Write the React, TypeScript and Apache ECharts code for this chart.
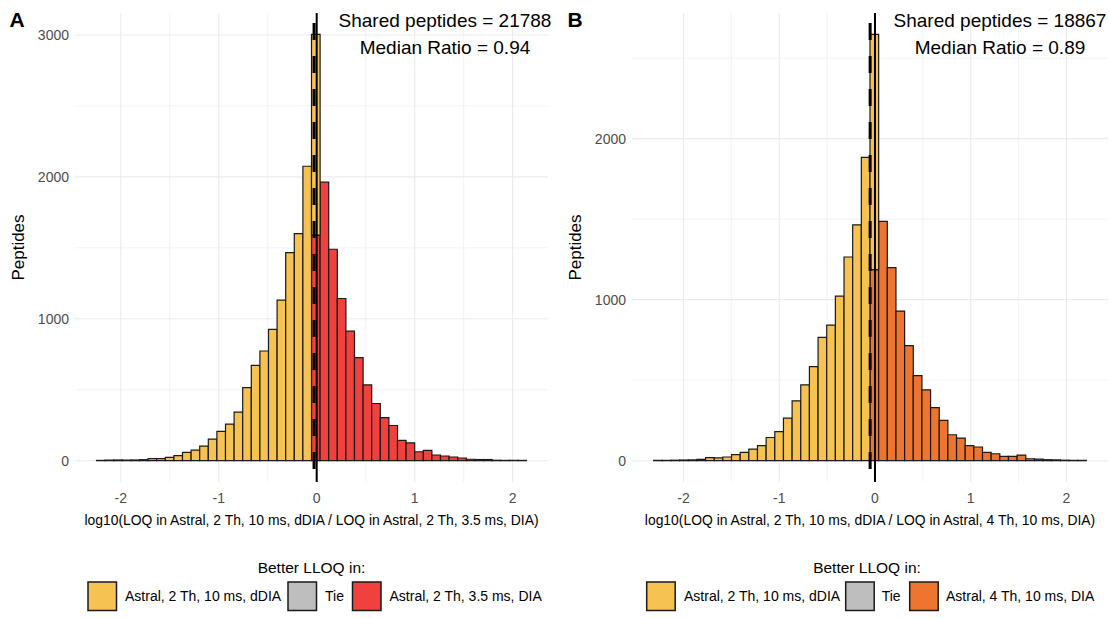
import React, { useEffect, useRef } from "react";
import * as echarts from "echarts";

const FONT = '"Liberation Sans", Arial, Helvetica, sans-serif';

// Panel A: log10(LOQ 2 Th 10 ms dDIA / LOQ 2 Th 3.5 ms DIA), 50 equal bins
const A_BIN_START = -2.248;
const A_BIN_WIDTH = 0.0878;
const A_BETTER_DDIA = [
  2, 4, 5, 4, 5, 7, 14, 14, 23, 35, 59, 75, 103, 152, 206, 258, 342, 515, 672, 773, 925, 1131, 1466, 1600, 2075,
  1415, 0, 0, 0, 0, 0, 0, 0, 0, 0, 0, 0, 0, 0, 0, 0, 0, 0, 0, 0, 0, 0, 0, 0, 0,
];
const A_BETTER_DIA = [
  0, 0, 0, 0, 0, 0, 0, 0, 0, 0, 0, 0, 0, 0, 0, 0, 0, 0, 0, 0, 0, 0, 0, 0, 0,
  1590, 1963, 1490, 1143, 913, 726, 534, 403, 304, 248, 143, 126, 63, 73, 40, 33, 26, 19, 10, 8, 8, 3, 2, 2, 2,
];
const A_SHARED = 21788;
const A_MEDIAN_RATIO = 0.94;
const A_GROUPS = ["Astral, 2 Th, 10 ms, dDIA", "Tie", "Astral, 2 Th, 3.5 ms, DIA"];
const A_X_TITLE = "log10(LOQ in Astral, 2 Th, 10 ms, dDIA / LOQ in Astral, 2 Th, 3.5 ms, DIA)";
const A_Y_TICKS = [0, 1000, 2000, 3000];
const A_Y_MINOR = [500, 1500, 2500];

// Panel B: log10(LOQ 2 Th 10 ms dDIA / LOQ 4 Th 10 ms DIA), 50 equal bins
const B_BIN_START = -2.312;
const B_BIN_WIDTH = 0.0904;
const B_BETTER_DDIA = [
  2, 2, 3, 4, 5, 8, 19, 17, 23, 37, 52, 72, 93, 144, 180, 264, 372, 471, 584, 766, 842, 1022, 1265, 1465, 1884,
  1461, 0, 0, 0, 0, 0, 0, 0, 0, 0, 0, 0, 0, 0, 0, 0, 0, 0, 0, 0, 0, 0, 0, 0, 0,
];
const B_BETTER_DIA = [
  0, 0, 0, 0, 0, 0, 0, 0, 0, 0, 0, 0, 0, 0, 0, 0, 0, 0, 0, 0, 0, 0, 0, 0, 0,
  1187, 1486, 1199, 929, 714, 528, 440, 330, 250, 161, 140, 93, 85, 52, 43, 27, 27, 35, 12, 10, 6, 5, 3, 2, 2,
];
const B_SHARED = 18867;
const B_MEDIAN_RATIO = 0.89;
const B_GROUPS = ["Astral, 2 Th, 10 ms, dDIA", "Tie", "Astral, 4 Th, 10 ms, DIA"];
const B_X_TITLE = "log10(LOQ in Astral, 2 Th, 10 ms, dDIA / LOQ in Astral, 4 Th, 10 ms, DIA)";
const B_Y_TICKS = [0, 1000, 2000];
const B_Y_MINOR = [500, 1500, 2500];

const X_TICKS = [-2, -1, 0, 1, 2];
const X_MINOR = [-1.5, -0.5, 0.5, 1.5];
const LEGEND_TITLE = "Better LLOQ in:";

const COLOR_DDIA = "#F6C353";
const COLOR_TIE = "#BEBEBE";
const COLOR_DIA_A = "#F0413F";
const COLOR_DIA_B = "#EE7530";
const GRID_COLOR = "#EBEBEB";
const OUTLINE = "#1a1a1a";

type Panel = {
  binStart: number;
  binWidth: number;
  ddia: number[];
  dia: number[];
  shared: number;
  median: number;
  groups: string[];
  xTitle: string;
  yTicks: number[];
  yMinor: number[];
  diaColor: string;
};

const PANELS: Panel[] = [
  {
    binStart: A_BIN_START, binWidth: A_BIN_WIDTH, ddia: A_BETTER_DDIA, dia: A_BETTER_DIA,
    shared: A_SHARED, median: A_MEDIAN_RATIO, groups: A_GROUPS, xTitle: A_X_TITLE,
    yTicks: A_Y_TICKS, yMinor: A_Y_MINOR, diaColor: COLOR_DIA_A,
  },
  {
    binStart: B_BIN_START, binWidth: B_BIN_WIDTH, ddia: B_BETTER_DDIA, dia: B_BETTER_DIA,
    shared: B_SHARED, median: B_MEDIAN_RATIO, groups: B_GROUPS, xTitle: B_X_TITLE,
    yTicks: B_Y_TICKS, yMinor: B_Y_MINOR, diaColor: COLOR_DIA_B,
  },
];

// layout of the two panels
const LAYOUT = [
  { left: 75, width: 473, label: "A", labelX: 17, annX: 445, legendKeys: [88, 288, 352.5], legendTexts: [125, 325, 389.5], legendTitleX: 311.5 },
  { left: 632, width: 476, label: "B", labelX: 575, annX: 1000, legendKeys: [646.7, 845.7, 909.7], legendTexts: [684, 881.7, 946], legendTitleX: 867 },
];
const GRID_TOP = 13;
const GRID_HEIGHT = 469;

const renderBar = (params: any, api: any) => {
  const p0 = api.coord([api.value(0), api.value(2)]);
  const p1 = api.coord([api.value(1), api.value(3)]);
  return {
    type: "rect",
    shape: { x: p0[0], y: p1[1], width: p1[0] - p0[0], height: p0[1] - p1[1] },
    style: { fill: api.visual("color"), stroke: OUTLINE, lineWidth: 1.2 },
  };
};

const renderVGrid = (params: any, api: any) => {
  const cs = params.coordSys;
  const x = api.coord([api.value(0), 0])[0];
  return {
    type: "line",
    shape: { x1: x, y1: cs.y, x2: x, y2: cs.y + cs.height },
    style: { stroke: GRID_COLOR, lineWidth: api.value(2) ? 1.1 : 0.6 },
  };
};

const renderHGrid = (params: any, api: any) => {
  const cs = params.coordSys;
  const y = api.coord([0, api.value(1)])[1];
  return {
    type: "line",
    shape: { x1: cs.x, y1: y, x2: cs.x + cs.width, y2: y },
    style: { stroke: GRID_COLOR, lineWidth: api.value(2) ? 1.1 : 0.6 },
  };
};

const makeVRef = (dashed: boolean) => (params: any, api: any) => {
  const cs = params.coordSys;
  const x = api.coord([api.value(0), 0])[0];
  return {
    type: "line",
    shape: { x1: x, y1: cs.y, x2: x, y2: cs.y + cs.height },
    style: dashed
      ? { stroke: "#000", lineWidth: 3, lineDash: [17, 16], lineDashOffset: -10 }
      : { stroke: "#000", lineWidth: 2 },
  };
};

function buildOption() {
  const grid: any[] = [];
  const xAxis: any[] = [];
  const yAxis: any[] = [];
  const series: any[] = [];
  const graphic: any[] = [];

  PANELS.forEach((p, i) => {
    const L = LAYOUT[i];
    const nBins = p.ddia.length;
    const xLo = p.binStart;
    const xHi = p.binStart + nBins * p.binWidth;
    const xPad = 0.05 * (xHi - xLo);
    const totals = p.ddia.map((v, k) => v + p.dia[k]);
    const yTop = Math.max(...totals);
    const yPad = 0.05 * yTop;

    grid.push({ left: L.left, top: GRID_TOP, width: L.width, height: GRID_HEIGHT, containLabel: false });

    xAxis.push({
      gridIndex: i,
      type: "value",
      min: xLo - xPad,
      max: xHi + xPad,
      axisLine: { show: false },
      axisTick: { show: false },
      splitLine: { show: false },
      axisLabel: {
        customValues: X_TICKS,
        formatter: (v: number) => String(v),
        color: "#4D4D4D",
        fontSize: 14,
        fontFamily: FONT,
        margin: 9,
      },
      name: p.xTitle,
      nameLocation: "middle",
      nameGap: 31,
      nameTextStyle: { color: "#000", fontSize: 13.9, fontFamily: FONT },
    });

    yAxis.push({
      gridIndex: i,
      type: "value",
      min: -yPad,
      max: yTop + yPad,
      axisLine: { show: false },
      axisTick: { show: false },
      splitLine: { show: false },
      axisLabel: {
        customValues: p.yTicks,
        formatter: (v: number) => String(v),
        color: "#4D4D4D",
        fontSize: 14,
        fontFamily: FONT,
        margin: 6,
      },
      name: "Peptides",
      nameLocation: "middle",
      nameGap: 48,
      nameTextStyle: { color: "#000", fontSize: 17, fontFamily: FONT },
    });

    // panel grid lines
    series.push({
      type: "custom",
      name: `vgrid-${i}`,
      xAxisIndex: i,
      yAxisIndex: i,
      silent: true,
      z: 0,
      renderItem: renderVGrid,
      data: [...X_TICKS.map((v) => [v, 0, 1]), ...X_MINOR.map((v) => [v, 0, 0])],
    });
    series.push({
      type: "custom",
      name: `hgrid-${i}`,
      xAxisIndex: i,
      yAxisIndex: i,
      silent: true,
      z: 0,
      renderItem: renderHGrid,
      data: [...p.yTicks.map((v) => [0, v, 1]), ...p.yMinor.map((v) => [0, v, 0])],
    });

    // stacked histogram: DIA-better counts at the bottom, dDIA-better on top
    const diaRects: number[][] = [];
    const ddiaRects: number[][] = [];
    for (let k = 0; k < nBins; k++) {
      const x0 = p.binStart + k * p.binWidth;
      const x1 = x0 + p.binWidth;
      if (p.dia[k] > 0) diaRects.push([x0, x1, 0, p.dia[k]]);
      if (p.ddia[k] > 0) ddiaRects.push([x0, x1, p.dia[k], p.dia[k] + p.ddia[k]]);
    }
    series.push({
      type: "custom",
      name: p.groups[2],
      xAxisIndex: i,
      yAxisIndex: i,
      silent: true,
      z: 2,
      itemStyle: { color: p.diaColor },
      renderItem: renderBar,
      encode: { x: [0, 1], y: [2, 3] },
      data: diaRects,
    });
    series.push({
      type: "custom",
      name: p.groups[0],
      xAxisIndex: i,
      yAxisIndex: i,
      silent: true,
      z: 2,
      itemStyle: { color: COLOR_DDIA },
      renderItem: renderBar,
      encode: { x: [0, 1], y: [2, 3] },
      data: ddiaRects,
    });

    // no-change line and median ratio line
    series.push({
      type: "custom",
      name: `zero-${i}`,
      xAxisIndex: i,
      yAxisIndex: i,
      silent: true,
      z: 4,
      renderItem: makeVRef(false),
      data: [[0, 0]],
    });
    series.push({
      type: "custom",
      name: `median-${i}`,
      xAxisIndex: i,
      yAxisIndex: i,
      silent: true,
      z: 5,
      renderItem: makeVRef(true),
      data: [[Math.log10(p.median), 0]],
    });

    // panel tag
    graphic.push({
      type: "text",
      x: L.labelX,
      y: 19,
      z: 20,
      style: { text: L.label, fontSize: 21, fontWeight: "bold", fontFamily: FONT, fill: "#000", align: "center", verticalAlign: "middle" },
    });

    // annotation
    graphic.push({
      type: "text",
      x: L.annX,
      y: 20.5,
      z: 20,
      style: { text: `Shared peptides = ${p.shared}`, fontSize: 19, fontFamily: FONT, fill: "#000", align: "center", verticalAlign: "middle" },
    });
    graphic.push({
      type: "text",
      x: L.annX,
      y: 47,
      z: 20,
      style: { text: `Median Ratio = ${p.median.toFixed(2)}`, fontSize: 19, fontFamily: FONT, fill: "#000", align: "center", verticalAlign: "middle" },
    });

    // legend
    graphic.push({
      type: "text",
      x: L.legendTitleX,
      y: 567,
      z: 20,
      style: { text: LEGEND_TITLE, fontSize: 15.5, fontFamily: FONT, fill: "#000", align: "center", verticalAlign: "middle" },
    });
    const keyColors = [COLOR_DDIA, COLOR_TIE, p.diaColor];
    p.groups.forEach((g, gi) => {
      graphic.push({
        type: "rect",
        x: L.legendKeys[gi],
        y: 582,
        z: 20,
        shape: { x: 0, y: 0, width: 28.5, height: 28.5 },
        style: { fill: keyColors[gi], stroke: OUTLINE, lineWidth: 1.5 },
      });
      graphic.push({
        type: "text",
        x: L.legendTexts[gi],
        y: 596,
        z: 20,
        style: { text: g, fontSize: 14, fontFamily: FONT, fill: "#000", align: "left", verticalAlign: "middle" },
      });
    });
  });

  return {
    animation: false,
    backgroundColor: "#ffffff",
    textStyle: { fontFamily: FONT },
    grid,
    xAxis,
    yAxis,
    series,
    graphic,
  };
}

export default function App() {
  const ref = useRef<HTMLDivElement>(null);
  useEffect(() => {
    document.body.style.margin = "0";
    if (!ref.current) return;
    const chart = echarts.init(ref.current, undefined, { renderer: "svg" });
    chart.setOption(buildOption() as any);
    return () => chart.dispose();
  }, []);
  return <div ref={ref} style={{ width: 1109, height: 618 }} />;
}
